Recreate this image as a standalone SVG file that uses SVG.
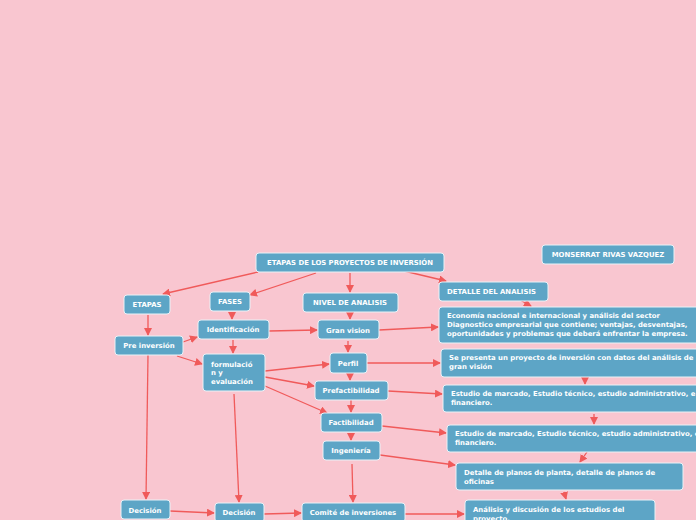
<svg xmlns="http://www.w3.org/2000/svg" width="696" height="520" viewBox="0 0 696 520">
<style>
.n rect{fill:#5DA5C6;stroke:#EAF2F7;stroke-width:1}
.n text{fill:#fff;font-family:"DejaVu Sans",Verdana,sans-serif;font-weight:bold;font-size:6.9px}
.c path{fill:none;stroke:#F05A5A;stroke-width:1.3;marker-end:url(#a)}
</style>
<defs>
<marker id="a" markerUnits="userSpaceOnUse" markerWidth="8" markerHeight="8" refX="7" refY="4" orient="auto"><path d="M0,0 L8,4 L0,8 Z" fill="#F05A5A"/></marker>
</defs>
<rect width="696" height="520" fill="#F9C6D0"/>
<g class="c">
<path d="M258,272 L163,294"/>
<path d="M316,273 L250,295"/>
<path d="M350,273 L350,292"/>
<path d="M404,271 L446,281"/>
<path d="M520,300 L531,306"/>
<path d="M148,315 L148,335"/>
<path d="M232,312 L232,319"/>
<path d="M350,312 L350,319"/>
<path d="M183,342 L197,337"/>
<path d="M177,356 L202,364"/>
<path d="M269,331 L317,330"/>
<path d="M233,340 L233,353"/>
<path d="M379,330 L438,327"/>
<path d="M348,341 L348,352"/>
<path d="M265,371 L329,364"/>
<path d="M265,377 L314,386"/>
<path d="M265,386 L327,413"/>
<path d="M367,363 L440,363"/>
<path d="M585,378 L585,384"/>
<path d="M350,374 L350,380"/>
<path d="M388,391 L442,394"/>
<path d="M351,400 L351,412"/>
<path d="M594,414 L594,424"/>
<path d="M382,426 L446,433"/>
<path d="M351,433 L351,440"/>
<path d="M587,452 L580,462"/>
<path d="M380,455 L455,465"/>
<path d="M564,492 L566,499"/>
<path d="M352,464 L353,502"/>
<path d="M148,355 L146,499"/>
<path d="M234,394 L239,502"/>
<path d="M170,511 L214,513"/>
<path d="M264,514 L301,513"/>
<path d="M405,514 L464,514"/>
</g>
<g id="title" class="n"><rect x="256" y="253" width="188" height="19" rx="3"/><text x="350" y="265" text-anchor="middle">ETAPAS DE LOS PROYECTOS DE INVERSIÓN</text></g>
<g id="autor" class="n"><rect x="542" y="245" width="132" height="19" rx="3"/><text x="608" y="257" text-anchor="middle">MONSERRAT RIVAS VAZQUEZ</text></g>
<g id="etapas" class="n"><rect x="124" y="295" width="46" height="19" rx="3"/><text x="147" y="307" text-anchor="middle">ETAPAS</text></g>
<g id="fases" class="n"><rect x="210" y="292" width="40" height="19" rx="3"/><text x="230" y="304" text-anchor="middle">FASES</text></g>
<g id="nivel" class="n"><rect x="303" y="293" width="95" height="19" rx="3"/><text x="350" y="305" text-anchor="middle">NIVEL DE ANALISIS</text></g>
<g id="detalle" class="n"><rect x="439" y="282" width="109" height="19" rx="3"/><text x="447" y="294">DETALLE DEL ANALISIS</text></g>
<g id="preinversion" class="n"><rect x="115" y="336" width="68" height="19" rx="3"/><text x="149" y="348" text-anchor="middle">Pre inversión</text></g>
<g id="identificacion" class="n"><rect x="198" y="320" width="71" height="19" rx="3"/><text x="233" y="332" text-anchor="middle">Identificación</text></g>
<g id="granvision" class="n"><rect x="318" y="320" width="61" height="19" rx="3"/><text x="348" y="333" text-anchor="middle">Gran vision</text></g>
<g id="economia" class="n"><rect x="439" y="307" width="262" height="36" rx="3"/><text x="447" y="318">Economía nacional e internacional y análisis del sector</text><text x="447" y="327">Diagnostico empresarial que contiene; ventajas, desventajas,</text><text x="447" y="336">oportunidades y problemas que deberá enfrentar la empresa.</text></g>
<g id="formulacion" class="n"><rect x="203" y="354" width="62" height="37" rx="3"/><text x="211" y="367">formulació</text><text x="211" y="375">n y</text><text x="211" y="384">evaluación</text></g>
<g id="perfil" class="n"><rect x="330" y="353" width="37" height="20" rx="3"/><text x="348" y="366" text-anchor="middle">Perfil</text></g>
<g id="sepresenta" class="n"><rect x="441" y="349" width="260" height="28" rx="3"/><text x="449" y="360">Se presenta un proyecto de inversión con datos del análisis de</text><text x="449" y="369">gran visión</text></g>
<g id="prefactibilidad" class="n"><rect x="315" y="381" width="73" height="19" rx="3"/><text x="351" y="393" text-anchor="middle">Prefactibilidad</text></g>
<g id="estudio1" class="n"><rect x="443" y="385" width="258" height="27" rx="3"/><text x="451" y="396">Estudio de marcado, Estudio técnico, estudio administrativo, e</text><text x="451" y="405">financiero.</text></g>
<g id="factibilidad" class="n"><rect x="321" y="413" width="61" height="19" rx="3"/><text x="351" y="425" text-anchor="middle">Factibilidad</text></g>
<g id="estudio2" class="n"><rect x="447" y="425" width="254" height="27" rx="3"/><text x="455" y="436">Estudio de marcado, Estudio técnico, estudio administrativo, e</text><text x="455" y="445">financiero.</text></g>
<g id="ingenieria" class="n"><rect x="323" y="441" width="57" height="19" rx="3"/><text x="351" y="453" text-anchor="middle">Ingeniería</text></g>
<g id="planos" class="n"><rect x="456" y="463" width="227" height="27" rx="3"/><text x="464" y="475">Detalle de planos de planta, detalle de planos de</text><text x="464" y="484">oficinas</text></g>
<g id="decision1" class="n"><rect x="121" y="500" width="49" height="19" rx="3"/><text x="145" y="513" text-anchor="middle">Decisión</text></g>
<g id="decision2" class="n"><rect x="215" y="503" width="49" height="19" rx="3"/><text x="239" y="515" text-anchor="middle">Decisión</text></g>
<g id="comite" class="n"><rect x="302" y="503" width="103" height="19" rx="3"/><text x="353" y="515" text-anchor="middle">Comité de inversiones</text></g>
<g id="analisis" class="n"><rect x="465" y="500" width="190" height="27" rx="3"/><text x="473" y="512">Análisis y discusión de los estudios del</text><text x="473" y="521">proyecto.</text></g>
</svg>
